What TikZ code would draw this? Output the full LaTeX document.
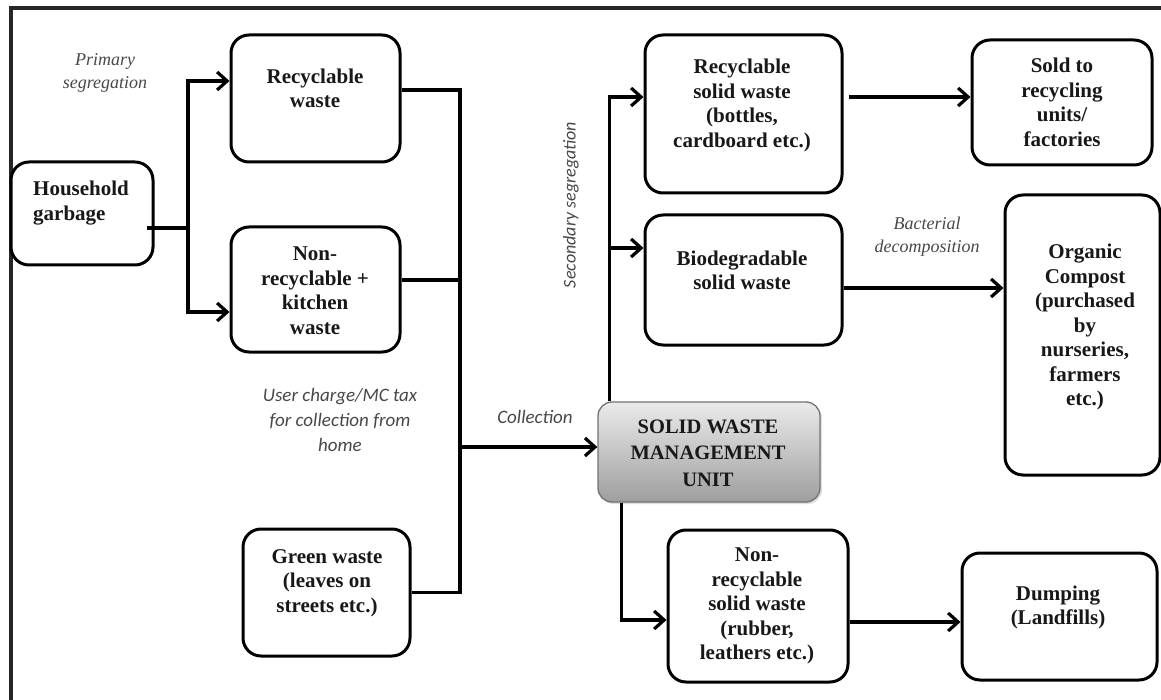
\documentclass[tikz,border=0pt]{standalone}
\usepackage{fontspec}
\setmainfont{Liberation Serif}
\newfontfamily\calfont{Carlito}
\usetikzlibrary{arrows.meta,shadows}
\definecolor{lbl}{HTML}{484848}
\definecolor{txt}{HTML}{181818}
\newcommand\wbox[5]{\node[box,minimum width={(#4-#2)*1pt},minimum height={(#5-#3)*1pt}] (#1) at ({(#2+#4)/2},{(#3+#5)/2}) {};}
\begin{document}
\begin{tikzpicture}[x=1pt,y=-1pt,
  box/.style={draw=black,line width=3pt,rounded corners=18pt,inner sep=0pt,fill=white},
  btxt/.style={font=\fontsize{21}{24.5}\selectfont\bfseries,text=txt,align=center,inner sep=0pt},
  conn/.style={line width=3.2pt},
  arr/.style={line width=3.2pt,-{Straight Barb[length=10pt,width=18pt]}},
  slbl/.style={font=\fontsize{18}{22.5}\selectfont\itshape,text=lbl,align=center,inner sep=0pt},
  clbl/.style={font=\calfont\fontsize{19}{25}\selectfont\itshape,text=lbl,align=center,inner sep=0pt}]
\fill[white] (0,0) rectangle (1161,700);
\useasboundingbox (0,0) rectangle (1161,700);
% frame
\draw[line width=3.2pt,black!85] (1161,8) -- (11,8) -- (11,700);
% boxes
\wbox{hg}{11}{162}{153}{265}
\wbox{rw}{231}{35}{400}{162}
\wbox{nrk}{231}{227}{400}{352}
\wbox{gw}{243}{529}{410}{656}
\wbox{rsw}{645}{35}{842}{193}
\wbox{bsw}{645}{215}{842}{345}
\wbox{sold}{972}{40}{1152}{165}
\wbox{oc}{1005}{195}{1160}{475}
\wbox{nrs}{668}{530}{848}{682}
\wbox{dump}{962}{553}{1157}{680}
\node[draw=black!55,line width=1.3pt,rounded corners=14pt,top color=black!8,bottom color=black!38,
  minimum width=222pt,minimum height=100pt,inner sep=0pt,
  drop shadow={opacity=0.25,shadow xshift=2pt,shadow yshift=-2pt}] (swmu) at (709,452) {};
% box texts
\node[btxt,align=left,anchor=west] (hgT) at (33,203) {Household\\garbage};
\node[btxt] (rwT) at (315,88.5) {Recyclable\\waste};
\node[btxt] (nrkT) at (315,290.5) {Non-\\recyclable +\\kitchen\\waste};
\node[btxt] (gwT) at (327,583) {Green waste\\(leaves on\\streets etc.)};
\node[btxt] (rswT) at (742,105.5) {Recyclable\\solid waste\\(bottles,\\cardboard etc.)};
\node[btxt] (bswT) at (742,270.5) {Biodegradable\\solid waste};
\node[btxt] (soldT) at (1062,102.5) {Sold to\\recycling\\units/\\factories};
\node[btxt] (ocT) at (1085,327) {Organic\\Compost\\(purchased\\by\\nurseries,\\farmers\\etc.)};
\node[btxt,font=\fontsize{20.5}{26.5}\selectfont\bfseries] (swT) at (708,453) {SOLID WASTE\\MANAGEMENT\\UNIT};
\node[btxt] (nrsT) at (757,606) {Non-\\recyclable\\solid waste\\(rubber,\\leathers etc.)};
\node[btxt] (dumpT) at (1058,607.5) {Dumping\\(Landfills)};
% labels
\node[slbl] (pseg) at (105,73) {Primary\\segregation};
\node[clbl] (uc) at (340,420) {User charge/MC tax\\for collection from\\home};
\node[clbl] (col) at (535,417) {Collection};
\node[clbl,font=\calfont\fontsize{18}{22}\selectfont\itshape,rotate=90] (sseg) at (571,205) {Secondary segregation};
\node[slbl] (bact) at (927,236.5) {Bacterial\\decomposition};
% connectors
\coordinate (j1) at (188,228);
\draw[conn] ([xshift=-8pt,yshift=-14.5pt]hg.east) -- (j1);
\draw[arr] (j1) |- ([yshift=17.5pt]rw.west);
\draw[arr] (j1) |- ([yshift=-22.5pt]nrk.west);
\coordinate (j2) at (460,447);
\draw[conn] ([yshift=8.5pt]rw.east) -| (j2);
\draw[conn] ([yshift=9.5pt]nrk.east) -| (j2);
\draw[conn] (gw.east) -| (j2);
\draw[arr] (j2) -- ([yshift=5pt]swmu.west);
\coordinate (j3) at (610,248);
\draw[arr] ([xshift=12pt]swmu.north west) |- ([yshift=17pt]rsw.west);
\draw[arr] (j3) -- ([yshift=32pt]bsw.west);
\draw[arr] ([xshift=24pt]swmu.south west) |- ([yshift=-14pt]nrs.west);
\draw[arr] ([xshift=5pt,yshift=17pt]rsw.east) -- ([yshift=5.5pt]sold.west);
\draw[arr] ([yshift=-8pt]bsw.east) -- ([yshift=47pt]oc.west);
\draw[arr] ([yshift=-16pt]nrs.east) -- ([yshift=-5.5pt]dump.west);
\end{tikzpicture}
\end{document}
